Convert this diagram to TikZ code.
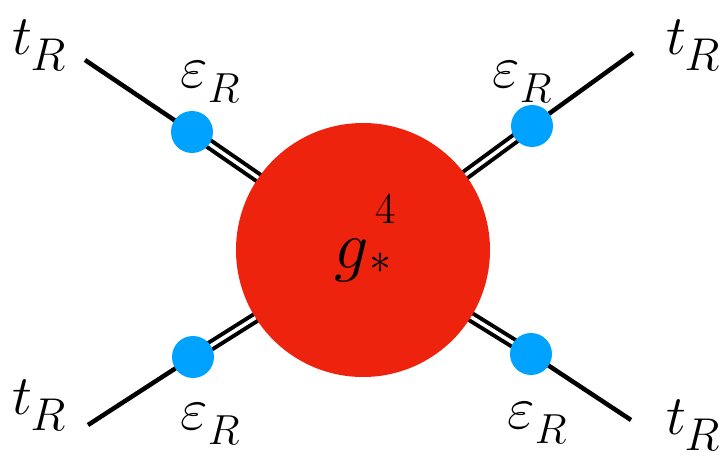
\RequirePackage{fix-cm}
\documentclass[tikz,border=0pt]{standalone}
\usetikzlibrary{backgrounds}

\definecolor{blobred}{RGB}{238,35,14}
\definecolor{dotblue}{RGB}{0,162,255}

\newcommand{\tRlab}{\fontsize{56}{56}\selectfont$t$\kern-2pt\raisebox{-16pt}{\fontsize{46}{46}\selectfont$R$}}
\newcommand{\epslab}{\fontsize{60}{60}\selectfont$\varepsilon$\raisebox{-15pt}{\fontsize{42}{42}\selectfont$R$}}
\newcommand{\glab}{\smash{\raisebox{-18pt}{\fontsize{68}{68}\selectfont$g$\rlap{\hspace{6pt}\raisebox{44pt}{\fontsize{44}{44}\selectfont 4}}\raisebox{-6pt}{\fontsize{44}{44}\selectfont$*$}}}}

\begin{document}
\begin{tikzpicture}[x=1pt, y=-1pt,
  blob/.style={circle, fill=blobred, minimum size=254pt, inner sep=0pt},
  vtx/.style={circle, fill=dotblue, minimum size=42pt, inner sep=0pt},
  lbl/.style={inner sep=0pt},
  leg/.style={line width=4.5pt},
  pol/.style={line width=4pt, double, double distance=3.5pt, shorten >=-4pt}
]
\useasboundingbox (0,0) rectangle (722,462);

% blob and vertices
\node[blob] (g) at (363,250) {\glab};
\node[vtx] (v1) at (192,132) {};
\node[vtx] (v2) at (532,126) {};
\node[vtx] (v3) at (193,357) {};
\node[vtx] (v4) at (531,354) {};

% free ends
\coordinate (e1) at (85,60);
\coordinate (e2) at (633,53);
\coordinate (e3) at (88,425);
\coordinate (e4) at (631,420);

% labels
\node[lbl] (t1) at (39,45)  {\tRlab};
\node[lbl] (t2) at (693,45) {\tRlab};
\node[lbl] (t3) at (39,405) {\tRlab};
\node[lbl] (t4) at (693,425){\tRlab};
\node[lbl] (p1) at (210,82) {\epslab};
\node[lbl] (p2) at (522,82) {\epslab};
\node[lbl] (p3) at (210,424){\epslab};
\node[lbl] (p4) at (537,423){\epslab};

\begin{scope}[on background layer]
\foreach \i in {1,...,4}{
  \draw[leg] (e\i) -- (v\i.center);
  \draw[pol] (v\i.center) -- (g);
}
\end{scope}
\end{tikzpicture}
\end{document}
